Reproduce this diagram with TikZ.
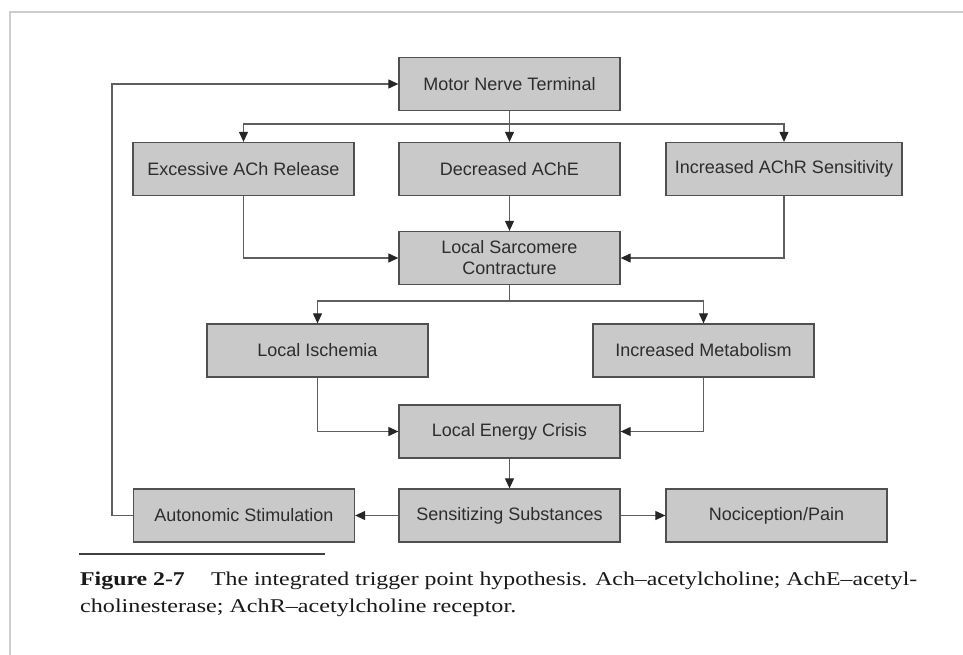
\documentclass[tikz,border=0pt]{standalone}
\usepackage{fontspec}
\usepackage{graphicx}
\setmainfont{Liberation Serif}
\newfontfamily\boxfont{Liberation Sans}
\usetikzlibrary{arrows.meta}
\definecolor{boxfill}{RGB}{201,201,201}
\definecolor{boxline}{RGB}{80,80,80}
\definecolor{boxtext}{RGB}{45,45,45}
\definecolor{conn}{RGB}{95,95,95}
\definecolor{frameline}{RGB}{205,205,205}
\definecolor{captext}{RGB}{25,25,25}
\begin{document}
\begin{tikzpicture}[x=1pt,y=-1pt,
  stage/.style={draw=boxline, fill=boxfill, line width=1.3pt, minimum width=221pt,
    minimum height=53pt, inner sep=0pt, text=boxtext,
    font=\boxfont\fontsize{18}{21}\selectfont, align=center},
  link/.style={draw=conn, line width=1.1pt},
  arr/.style={link, -{Triangle[length=10pt,width=9pt,color=black!85]}},
  captxt/.style={anchor=base west, inner sep=0pt, text=captext, font=\fontsize{19.5}{22}\selectfont}
]
\useasboundingbox (0,0) rectangle (963,655);
\fill[white] (0,0) rectangle (963,655);
% page frame
\draw[frameline, line width=1.6pt] (10,655) -- (10,12) -- (963,12);

% nodes
\node[stage] (motor)  at (509.5,84)    {Motor Nerve Terminal};
\node[stage] (ach)    at (243.5,169)   {Excessive ACh Release};
\node[stage] (ache)   at (509.5,169)   {Decreased AChE};
\node[stage, minimum width=236pt] (achr) at (784,169) {Increased AChR Sensitivity};
\node[stage] (sarc)   at (509.5,258)   {Local Sarcomere\\Contracture};
\node[stage] (isch)   at (317.5,350.5) {Local Ischemia};
\node[stage] (metab)  at (703.5,350.5) {Increased Metabolism};
\node[stage] (energy) at (509.5,431.5) {Local Energy Crisis};
\node[stage] (auto)   at (244,515.5)   {Autonomic Stimulation};
\node[stage] (sens)   at (509.5,515.5) {Sensitizing Substances};
\node[stage] (noci)   at (776.5,515.5) {Nociception/Pain};

% branch points
\coordinate (b1) at (509.5,124);
\coordinate (b2) at (509.5,301);
\coordinate (fb) at (112,515.5);

% connectors
\draw[link] (motor.south) -- (b1);
\draw[arr] (b1) -| (ach.north);
\draw[arr] (b1) -- (ache.north);
\draw[arr] (b1) -| (achr.north);

\draw[arr] (ach.south) |- (sarc.west);
\draw[arr] (ache.south) -- (sarc.north);
\draw[arr] (achr.south) |- (sarc.east);

\draw[link] (sarc.south) -- (b2);
\draw[arr] (b2) -| (isch.north);
\draw[arr] (b2) -| (metab.north);

\draw[arr] (isch.south) |- (energy.west);
\draw[arr] (metab.south) |- (energy.east);

\draw[arr] (energy.south) -- (sens.north);
\draw[arr] (sens.west) -- (auto.east);
\draw[arr] (sens.east) -- (noci.west);

\draw[arr] (auto.west) -- (fb) |- (motor.west);

% caption
\draw[black!75, line width=1.3pt] (79,554) -- (325,554);
\node[captxt] (cap1) at (80,585) {\resizebox{837pt}{\height}{\textbf{Figure 2-7}\hspace{1.1em}The integrated trigger point hypothesis. Ach--acetylcholine; AchE--acetyl-}};
\node[captxt] (cap2) at (80,612) {\resizebox{436pt}{\height}{cholinesterase; AchR--acetylcholine receptor.}};
\end{tikzpicture}
\end{document}
